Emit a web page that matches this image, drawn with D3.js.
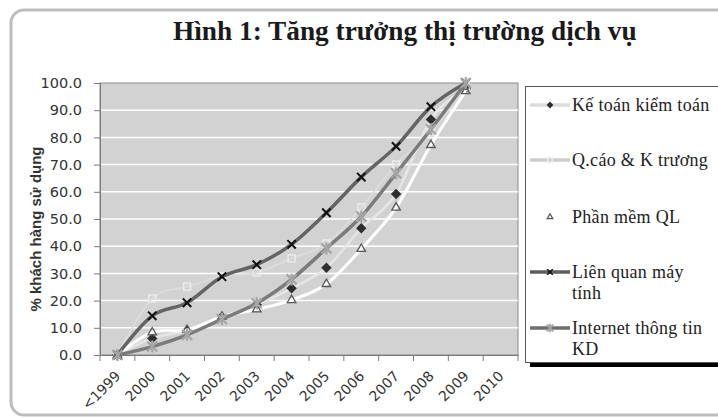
<!DOCTYPE html>
<html>
<head>
<meta charset="utf-8">
<script src="https://cdn.jsdelivr.net/npm/d3@7"></script>
<style>
  html, body { margin: 0; padding: 0; background: #fff; }
  svg { display: block; }
</style>
</head>
<body>
<svg id="chart" width="718" height="418"></svg>
<script>
// ---------- DATA ----------
const categories = ["<1999", "2000", "2001", "2002", "2003", "2004", "2005", "2006", "2007", "2008", "2009", "2010"];
const seriesNames = ["Kế toán kiểm toán", "Q.cáo & K trương", "Phần mềm QL", "Liên quan máy tính", "Internet thông tin KD"];
const keToanKiemToan = [0, 6.1, 9.0, 14.0, 18.5, 24.5, 32.1, 46.6, 59.2, 86.6, 98.0];
const qcaoKTruong   = [0, 20.8, 25.1, 29.0, 30.3, 35.5, 41.0, 54.3, 70.0, 82.0, 98.5];
const phanMemQL     = [0, 8.3, 9.2, 14.1, 16.8, 20.2, 26.1, 39.0, 54.2, 77.2, 97.0];
const lienQuanMayTinh = [0, 14.4, 19.2, 28.8, 33.2, 40.7, 52.3, 65.4, 76.7, 91.3, 100];
const internetTTKD  = [0, 3.1, 7.4, 13.2, 19.0, 27.8, 39.2, 50.9, 66.8, 83.0, 100];
const yTickValues = [0, 10, 20, 30, 40, 50, 60, 70, 80, 90, 100];
const titleText = "Hình 1: Tăng trưởng thị trường dịch vụ";
const yAxisTitle = "% khách hàng sử dụng";
const legendLabels = [["Kế toán kiểm toán"], ["Q.cáo & K trương"], ["Phần mềm QL"], ["Liên quan máy", "tính"], ["Internet thông tin", "KD"]];

// ---------- SETUP ----------
const svg = d3.select("#chart");
const plot = { left: 100, right: 518, top: 83, bottom: 355 };

// outer rounded frame
svg.append("rect")
  .attr("x", 11).attr("y", 10).attr("width", 730).attr("height", 405)
  .attr("rx", 13).attr("ry", 13)
  .attr("fill", "#fff").attr("stroke", "#bdbdbd").attr("stroke-width", 3);

// title
svg.append("text")
  .attr("x", 173).attr("y", 40)
  .attr("font-family", "'Liberation Serif', 'Times New Roman', serif")
  .attr("font-weight", "bold").attr("font-size", 27.3)
  .attr("fill", "#1a1a1a")
  .text(titleText);

const x = d3.scaleBand().domain(categories).range([plot.left, plot.right]).padding(0);
const y = d3.scaleLinear().domain([0, 100]).range([plot.bottom, plot.top]);
const cx = c => x(c) + x.bandwidth() / 2;

// plot background
svg.append("rect")
  .attr("x", plot.left).attr("y", plot.top)
  .attr("width", plot.right - plot.left).attr("height", plot.bottom - plot.top)
  .attr("fill", "#d2d2d2").attr("stroke", "#8a8a8a").attr("stroke-width", 1);

// gridlines
svg.append("g").selectAll("line")
  .data(yTickValues.filter(v => v > 0 && v < 100))
  .join("line")
  .attr("x1", plot.left).attr("x2", plot.right)
  .attr("y1", d => y(d)).attr("y2", d => y(d))
  .attr("stroke", "#ffffff").attr("stroke-width", 1.5);

// y axis
const yAxis = d3.axisLeft(y).tickValues(yTickValues).tickFormat(d3.format(".1f")).tickSize(6).tickPadding(12);
const gy = svg.append("g").attr("transform", `translate(${plot.left},0)`).call(yAxis);
gy.select(".domain").attr("stroke", "#7a7a7a");
gy.selectAll(".tick line").attr("stroke", "#7a7a7a");
gy.selectAll(".tick text")
  .attr("font-family", "'DejaVu Sans', sans-serif").attr("font-size", 14.5).attr("fill", "#333");

// x axis (labels)
const xAxis = d3.axisBottom(x).tickSize(0).tickPadding(0);
const gx = svg.append("g").attr("transform", `translate(0,${plot.bottom})`).call(xAxis);
gx.select(".domain").attr("stroke", "#7a7a7a");
gx.selectAll(".tick text")
  .attr("font-family", "'DejaVu Sans', sans-serif").attr("font-size", 14).attr("fill", "#333")
  .attr("text-anchor", "end")
  .attr("dy", 0).attr("y", 0)
  .attr("transform", "translate(4,22) rotate(-45)");

// x boundary ticks
const bounds = categories.map(c => x(c)).concat([plot.right]);
svg.append("g").selectAll("line").data(bounds).join("line")
  .attr("x1", d => d).attr("x2", d => d)
  .attr("y1", plot.bottom).attr("y2", plot.bottom + 6)
  .attr("stroke", "#7a7a7a");

// y axis title
svg.append("text")
  .attr("transform", `translate(41,${(plot.top + plot.bottom) / 2 + 10}) rotate(-90)`)
  .attr("text-anchor", "middle")
  .attr("font-family", "'Liberation Sans', Arial, sans-serif")
  .attr("font-weight", "bold").attr("font-size", 15).attr("fill", "#333")
  .text(yAxisTitle);

// ---------- SERIES ----------
const styles = [
  { data: keToanKiemToan, stroke: "#e6e6e6", width: 2.5, marker: "diamond" },
  { data: qcaoKTruong, stroke: "#dcdcdc", width: 1.8, marker: "square" },
  { data: phanMemQL, stroke: "#ffffff", width: 3, marker: "triangle" },
  { data: lienQuanMayTinh, stroke: "#646464", width: 3.5, marker: "x" },
  { data: internetTTKD, stroke: "#7b7b7b", width: 3.5, marker: "star" }
];

const line = d3.line()
  .x((d, i) => cx(categories[i]))
  .y(d => y(d))
  .curve(d3.curveCardinal.tension(0));

function drawMarker(g, type, px, py, scale) {
  const s = scale || 1;
  if (type === "diamond") {
    const r = 5.2 * s;
    g.append("path").attr("d", `M${px},${py - r}L${px + r},${py}L${px},${py + r}L${px - r},${py}Z`)
      .attr("fill", "#2e2e2e");
  } else if (type === "square") {
    g.append("rect").attr("x", px - 3.5 * s).attr("y", py - 3.5 * s)
      .attr("width", 7 * s).attr("height", 7 * s)
      .attr("fill", "none").attr("stroke", "#ececec").attr("stroke-width", 1.4);
  } else if (type === "triangle") {
    g.append("path").attr("d", d3.symbol(d3.symbolTriangle, 32 * s * s)())
      .attr("transform", `translate(${px},${py})`)
      .attr("fill", "none").attr("stroke", "#5a5a5a").attr("stroke-width", 1.3);
  } else if (type === "x") {
    const r = 4.2 * s;
    g.append("path").attr("d", `M${px - r},${py - r}L${px + r},${py + r}M${px - r},${py + r}L${px + r},${py - r}`)
      .attr("stroke", "#111").attr("stroke-width", 2 * Math.min(1, s + 0.2));
  } else if (type === "star") {
    const r = 5 * s;
    g.append("path").attr("d", `M${px - r},${py - r}L${px + r},${py + r}M${px - r},${py + r}L${px + r},${py - r}M${px},${py - r - 1}L${px},${py + r + 1}`)
      .attr("stroke", "#a5a5a5").attr("stroke-width", 2.2 * Math.min(1, s + 0.2));
  }
}

const gs = svg.append("g");
styles.forEach(st => {
  const g = gs.append("g");
  g.append("path").datum(st.data).attr("d", line)
    .attr("fill", "none").attr("stroke", st.stroke).attr("stroke-width", st.width)
    .attr("stroke-linejoin", "round");
  st.data.forEach((v, i) => drawMarker(g, st.marker, cx(categories[i]), y(v)));
});

// ---------- LEGEND ----------
const lg = svg.append("g");
lg.append("rect").attr("x", 530).attr("y", 362).attr("width", 200).attr("height", 5).attr("fill", "#000");
lg.append("rect").attr("x", 525.5).attr("y", 86.5).attr("width", 200).attr("height", 276)
  .attr("fill", "#fff").attr("stroke", "#555").attr("stroke-width", 1);

const legendY = [105, 160, 217, 272, 328];
const legendLine = ["#dcdcdc", "#cccccc", "#ffffff", "#5e5e5e", "#6e6e6e"];
styles.forEach((st, i) => {
  const ly = legendY[i];
  lg.append("line").attr("x1", 530).attr("x2", 570).attr("y1", ly).attr("y2", ly)
    .attr("stroke", legendLine[i]).attr("stroke-width", 3.5);
  drawMarker(lg, st.marker, 550, ly, 0.65);
  const t = lg.append("text")
    .attr("x", 572).attr("y", ly + 5.5)
    .attr("font-family", "'Liberation Serif', 'Times New Roman', serif")
    .attr("font-size", 18).attr("letter-spacing", 0.3).attr("fill", "#222");
  legendLabels[i].forEach((s, k) => {
    t.append("tspan").attr("x", 572).attr("dy", k === 0 ? 0 : 21.5).text(s);
  });
});
</script>
</body>
</html>
